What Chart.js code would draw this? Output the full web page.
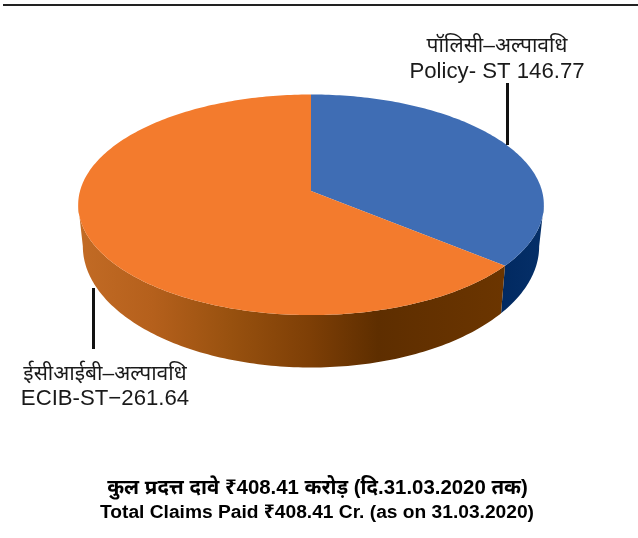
<!DOCTYPE html>
<html>
<head>
<meta charset="utf-8">
<style>
  html, body { margin: 0; padding: 0; background: #fff; }
  canvas { display: block; }
</style>
<script src="https://cdn.jsdelivr.net/npm/chart.js@4/dist/chart.umd.min.js"></script>
</head>
<body>
<canvas id="claimsChart" width="638" height="538"></canvas>
<script>
const categories = ['Policy- ST', 'ECIB-ST'];
const values = [146.77, 261.64];
const sliceNamesHi = ['पॉलिसी–अल्पावधि', 'ईसीआईबी–अल्पावधि'];
const sliceLabels = ['Policy- ST 146.77', 'ECIB-ST−261.64'];
const titleLines = ['कुल प्रदत्त दावे ₹408.41 करोड़ (दि.31.03.2020 तक)', 'Total Claims Paid ₹408.41 Cr. (as on 31.03.2020)'];

const topColors = ['#3f6db4', '#f37b2d'];
const FONT = '"Liberation Sans", Arial, "Noto Sans", sans-serif';

// fake perspective for the tilted disc
const TILT = 0.47, PERSP = 0.125;

function rimPoint(el, t, bottom) {
  const w = 1 - PERSP * Math.sin(t);
  const x = el.outerRadius * Math.cos(t) / w;
  const y = TILT * el.outerRadius * Math.sin(t) / w;
  if (bottom) return [el.x + 0.98 * x, el.y + 40 + 1.1 * y];
  return [el.x + x, el.y + y];
}

function sideFill(ctx, i) {
  const g = ctx.createLinearGradient(78, 0, 540, 0);
  if (i === 0) {
    g.addColorStop(0.9, '#00285f');
    g.addColorStop(1, '#052f68');
  } else {
    g.addColorStop(0, '#c26b25');
    g.addColorStop(0.16, '#b5601c');
    g.addColorStop(0.33, '#98510f');
    g.addColorStop(0.5, '#7e3f06');
    g.addColorStop(0.65, '#5e2e00');
    g.addColorStop(0.92, '#6b3500');
  }
  return g;
}

const disc3d = {
  id: 'disc3d',
  beforeDatasetsDraw(chart) {
    const ctx = chart.ctx;
    const arcs = chart.getDatasetMeta(0).data;
    const step = Math.PI / 180;
    // the disc is widest where sin(t) = PERSP, the wall only shows between those angles
    const edge = Math.asin(PERSP);

    // side wall first, top face covers the back of it
    arcs.forEach((el, i) => {
      const from = Math.max(el.startAngle, edge);
      const to = Math.min(el.endAngle, Math.PI - edge);
      ctx.fillStyle = sideFill(ctx, i);
      ctx.beginPath();
      for (let t = from; t < to; t += step) {
        const p = rimPoint(el, t);
        ctx.lineTo(p[0], p[1]);
      }
      const corner = rimPoint(el, to);
      ctx.lineTo(corner[0], corner[1]);
      for (let t = to; t > from; t -= step) {
        const p = rimPoint(el, t, true);
        ctx.lineTo(p[0], p[1]);
      }
      const last = rimPoint(el, from, true);
      ctx.lineTo(last[0], last[1]);
      ctx.closePath();
      ctx.fill();
    });

    arcs.forEach((el, i) => {
      ctx.fillStyle = topColors[i];
      ctx.beginPath();
      ctx.moveTo(el.x, el.y);
      for (let t = el.startAngle; t < el.endAngle; t += step) {
        const p = rimPoint(el, t);
        ctx.lineTo(p[0], p[1]);
      }
      const end = rimPoint(el, el.endAngle);
      ctx.lineTo(end[0], end[1]);
      ctx.closePath();
      ctx.fill();
    });
    return false;
  },
  afterDraw(chart) {
    const ctx = chart.ctx;
    ctx.save();

    // rule at the top of the page
    ctx.fillStyle = '#222';
    ctx.fillRect(3, 4, 635, 2);

    // leader lines
    ctx.fillStyle = '#111';
    ctx.fillRect(506, 83, 3, 62);
    ctx.fillRect(92, 288, 3, 61);

    ctx.textAlign = 'center';
    ctx.textBaseline = 'alphabetic';
    ctx.fillStyle = '#1a1a1a';
    ctx.font = '21px ' + FONT;
    ctx.fillText(sliceNamesHi[0], 497, 52);
    ctx.fillText(sliceNamesHi[1], 105, 380);
    ctx.font = '22.2px ' + FONT;
    ctx.fillText(sliceLabels[0], 497, 78);
    ctx.fillText(sliceLabels[1], 105, 405);

    ctx.fillStyle = '#000';
    ctx.font = 'bold 20.4px ' + FONT;
    ctx.fillText(titleLines[0], 317.5, 494);
    ctx.font = 'bold 19.2px ' + FONT;
    ctx.fillText(titleLines[1], 317, 518);
    ctx.restore();
  }
};

new Chart(document.getElementById('claimsChart'), {
  type: 'pie',
  data: {
    labels: categories,
    datasets: [{
      data: values,
      backgroundColor: topColors,
      borderWidth: 0,
      radius: 231
    }]
  },
  options: {
    responsive: false,
    animation: false,
    layout: { padding: { left: 0, right: 16, top: 0, bottom: 156 } },
    plugins: {
      legend: { display: false },
      tooltip: { enabled: false },
      title: { display: false }
    }
  },
  plugins: [disc3d]
});
</script>
</body>
</html>
